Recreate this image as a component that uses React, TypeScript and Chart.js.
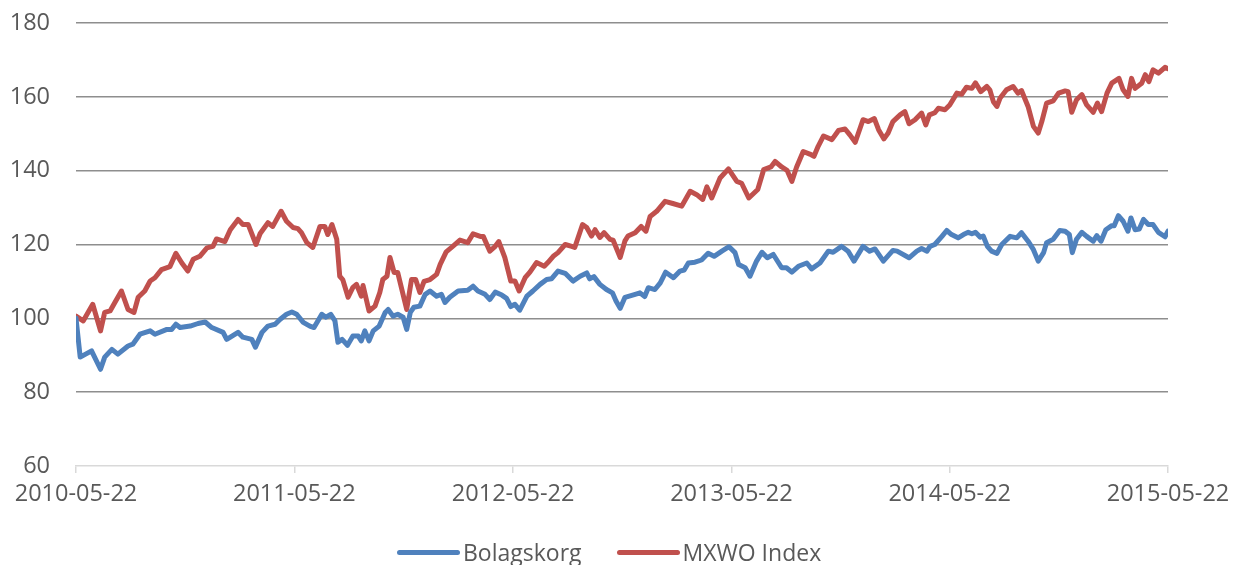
import React, { useEffect, useRef } from 'react';
import { Chart, registerables } from 'chart.js';

Chart.register(...registerables);

const seriesNames = ['Bolagskorg', 'MXWO Index'];
const seriesColors = ['#4f81bd', '#c0504d'];

// days since 2010-05-22
const tickDays = [0, 365, 731, 1096, 1461, 1826];
const tickLabels = ['2010-05-22', '2011-05-22', '2012-05-22', '2013-05-22', '2014-05-22', '2015-05-22'];
const yTicks = [60, 80, 100, 120, 140, 160, 180];

const blueDays = [
  0, 7, 26, 41, 48, 60, 70, 87, 95, 107, 124, 132, 152, 160, 167, 174, 191, 204, 216, 227,
  246, 252, 271, 279, 294, 300, 311, 321, 333, 341, 352, 361, 369, 380, 391, 398, 411, 418, 426, 433,
  438, 445, 454, 463, 472, 477, 483, 490, 497, 507, 517, 522, 530, 538, 547, 553, 559, 565, 575, 584,
  592, 603, 611, 617, 625, 639, 655, 664, 672, 684, 692, 701, 712, 720, 727, 734, 742, 754, 764, 776,
  787, 795, 806, 818, 831, 843, 854, 859, 866, 876, 887, 897, 903, 910, 918, 935, 943, 951, 957, 968,
  977, 986, 999, 1010, 1017, 1024, 1035, 1046, 1057, 1067, 1080, 1092, 1102, 1108, 1119, 1127, 1138, 1147, 1156, 1166,
  1180, 1188, 1197, 1208, 1222, 1230, 1244, 1258, 1266, 1280, 1291, 1301, 1316, 1327, 1336, 1350, 1366, 1373, 1393, 1406,
  1414, 1423, 1428, 1436, 1448, 1456, 1464, 1475, 1484, 1492, 1498, 1504, 1512, 1517, 1524, 1531, 1540, 1548, 1562, 1573,
  1581, 1592, 1601, 1609, 1618, 1623, 1634, 1645, 1654, 1661, 1666, 1673, 1682, 1690, 1701, 1707, 1714, 1722, 1732, 1736,
  1743, 1751, 1759, 1764, 1771, 1778, 1785, 1793, 1801, 1810, 1821, 1826,
];
const blueValues = [
  100, 89.5, 91.2, 86.2, 89.5, 91.6, 90.3, 92.5, 93, 95.7, 96.6, 95.7, 97, 97, 98.4, 97.5, 97.9, 98.6, 99, 97.5,
  96.2, 94.3, 96.2, 94.9, 94.3, 92.2, 96.2, 97.9, 98.4, 99.7, 101.1, 101.7, 101.1, 98.9, 97.9, 97.5, 101.1, 100.3, 101.1, 99.3,
  93.5, 94.3, 92.7, 95.2, 95.2, 93.9, 96.6, 93.9, 96.6, 97.9, 101.6, 102.4, 100.6, 101.1, 100.3, 97, 101.6, 103, 103.3, 106.5,
  107.4, 106, 106.5, 104.3, 105.7, 107.4, 107.6, 108.7, 107.4, 106.5, 105.1, 107.1, 106.3, 105.4, 103.2, 103.8, 102.2, 106, 107.4, 109.2,
  110.5, 110.7, 112.8, 112.2, 110.1, 111.4, 112.3, 110.7, 111.3, 109.2, 107.8, 106.9, 104.7, 102.7, 105.7, 106.5, 106.9, 105.9, 108.3, 107.8,
  109.6, 112.5, 111, 112.8, 113.1, 115, 115.2, 115.8, 117.6, 116.8, 118.2, 119.4, 117.8, 114.6, 113.7, 111.4, 115.5, 117.9, 116.4, 117.3,
  113.7, 113.7, 112.5, 114.1, 115, 113.4, 115, 118.2, 117.9, 119.5, 118.2, 115.5, 119.5, 118.2, 118.8, 115.5, 118.4, 118.2, 116.4, 118.2,
  118.9, 118.2, 119.5, 120, 122.2, 123.8, 122.7, 121.8, 122.7, 123.3, 122.9, 123.3, 122, 122.3, 119.5, 118.2, 117.6, 120, 122.2, 121.8,
  123.2, 120.9, 118.6, 115.5, 117.8, 120.5, 121.4, 123.8, 123.6, 122.7, 117.8, 121.4, 123.3, 122.2, 120.9, 122.4, 120.9, 124, 125.1, 125.1,
  127.8, 126.3, 123.6, 127.2, 124, 124.2, 126.8, 125.4, 125.4, 123.3, 122.1, 123.6,
];

const redDays = [
  0, 12, 28, 41, 48, 57, 65, 76, 87, 97, 104, 115, 124, 132, 143, 157, 167, 177, 187, 196,
  207, 219, 229, 235, 249, 258, 271, 279, 288, 301, 308, 321, 329, 343, 352, 363, 371, 377, 386, 396,
  408, 416, 421, 428, 436, 441, 446, 455, 463, 469, 477, 480, 490, 500, 508, 513, 520, 525, 532, 538,
  553, 561, 568, 575, 582, 592, 603, 609, 619, 630, 642, 655, 664, 676, 681, 692, 701, 707, 717, 727,
  734, 741, 751, 759, 770, 783, 789, 798, 806, 818, 829, 834, 847, 854, 862, 868, 876, 883, 893, 898,
  910, 918, 923, 935, 945, 953, 960, 971, 985, 998, 1013, 1027, 1038, 1048, 1055, 1063, 1077, 1091, 1105, 1113,
  1125, 1140, 1150, 1162, 1169, 1180, 1189, 1197, 1205, 1216, 1227, 1234, 1241, 1250, 1264, 1275, 1286, 1294, 1303, 1316,
  1325, 1335, 1342, 1351, 1358, 1366, 1378, 1386, 1393, 1403, 1414, 1421, 1427, 1436, 1442, 1453, 1461, 1473, 1481, 1489,
  1498, 1504, 1513, 1523, 1528, 1534, 1540, 1545, 1556, 1567, 1575, 1581, 1592, 1601, 1609, 1615, 1623, 1634, 1643, 1654,
  1659, 1665, 1673, 1682, 1690, 1701, 1708, 1715, 1724, 1732, 1744, 1751, 1759, 1765, 1771, 1782, 1788, 1794, 1801, 1810,
  1821, 1826,
];
const redValues = [
  100.6, 99.3, 103.8, 96.6, 101.6, 102, 104.3, 107.4, 102.4, 101.6, 105.7, 107.4, 110.1, 111, 113.2, 114, 117.6, 115, 112.8, 116,
  116.8, 119.1, 119.5, 121.5, 120.8, 124, 126.8, 125.4, 125.4, 120, 123, 125.9, 124.9, 129, 126.3, 124.6, 124.3, 123.2, 120.5, 119.2,
  124.9, 124.9, 122.7, 125.4, 121.4, 111.4, 110.5, 105.7, 108.4, 109.2, 106, 108.9, 102, 103.3, 107, 110.5, 111.4, 116.5, 112.4, 112.4,
  102.4, 110.5, 110.5, 107, 110, 110.5, 111.9, 114.6, 118, 119.5, 121.2, 120.5, 122.9, 122.2, 122.2, 118.2, 119.5, 120.8, 116.5, 110.1,
  110.1, 107.4, 111, 112.5, 115.1, 114.1, 115.1, 116.8, 117.8, 120, 119.5, 119.2, 125.4, 124.6, 122.3, 124, 121.9, 123.2, 121.4, 121.2,
  116.5, 121, 122.3, 123.2, 124.9, 123.6, 127.6, 129, 131.7, 131.1, 130.4, 134.4, 133.5, 132.2, 135.6, 132.6, 138, 140.5, 137.1, 136.6,
  132.6, 134.9, 140.3, 141, 142.5, 141, 140.1, 137.1, 141, 145.2, 144.5, 143.9, 146.6, 149.4, 148.4, 150.9, 151.3, 149.7, 147.7, 153.8,
  153.3, 154.1, 151.1, 148.6, 150.2, 153.3, 155.1, 156, 152.7, 153.8, 155.6, 152.4, 155.1, 155.7, 156.9, 156.5, 157.8, 161, 160.7, 162.6,
  162.3, 163.8, 161.4, 162.8, 161.9, 158.7, 157.4, 159.6, 161.9, 162.8, 161, 161.7, 157.4, 152, 150.2, 153.3, 158.3, 158.9, 161, 161.6,
  161.4, 155.8, 159.2, 160.6, 157.8, 155.8, 158.3, 156, 161, 163.7, 165, 161.9, 160.1, 165, 162.3, 163.7, 166, 164.1, 167.3, 166.4,
  168, 167.6,
];

const FONT = "'Open Sans', sans-serif";
const TEXT = '#595959';

export default function App() {
  const canvasRef = useRef<HTMLCanvasElement | null>(null);

  useEffect(() => {
    if (!canvasRef.current) return;
    const toPoints = (xs: number[], ys: number[]) => xs.map((x, i) => ({ x, y: ys[i] }));
    const lineStyle = {
      borderWidth: 5,
      pointRadius: 0,
      tension: 0,
      borderJoinStyle: 'round' as const,
      borderCapStyle: 'round' as const,
    };
    const chart = new Chart(canvasRef.current, {
      type: 'line',
      data: {
        datasets: [
          {
            label: seriesNames[0],
            data: toPoints(blueDays, blueValues),
            borderColor: seriesColors[0],
            backgroundColor: seriesColors[0],
            ...lineStyle,
          },
          {
            label: seriesNames[1],
            data: toPoints(redDays, redValues),
            borderColor: seriesColors[1],
            backgroundColor: seriesColors[1],
            ...lineStyle,
          },
        ],
      },
      options: {
        animation: false,
        responsive: false,
        maintainAspectRatio: false,
        layout: { padding: { left: 0, right: 65, top: 23, bottom: 59 } },
        plugins: { legend: { display: false }, tooltip: { enabled: false } },
        scales: {
          x: {
            type: 'linear',
            min: tickDays[0],
            max: tickDays[tickDays.length - 1],
            afterBuildTicks: (scale: any) => {
              scale.ticks = tickDays.map((v) => ({ value: v }));
            },
            afterFit: (scale: any) => {
              scale.height = 40;
              scale.paddingLeft = 0;
              scale.paddingRight = 0;
            },
            border: { display: true, color: '#d9d9d9', width: 1.5 },
            grid: { drawOnChartArea: false, drawTicks: true, tickLength: 7, color: '#d9d9d9', lineWidth: 1.5 },
            ticks: {
              autoSkip: false,
              maxRotation: 0,
              padding: 7,
              color: TEXT,
              font: { family: FONT, size: 23.5 },
              callback: (value: any) => {
                const i = tickDays.indexOf(Number(value));
                return i >= 0 ? tickLabels[i] : '';
              },
            },
          },
          y: {
            min: yTicks[0],
            max: yTicks[yTicks.length - 1],
            afterBuildTicks: (scale: any) => {
              scale.ticks = yTicks.map((v) => ({ value: v }));
            },
            afterFit: (scale: any) => {
              scale.width = 76;
              scale.paddingTop = 0;
              scale.paddingBottom = 0;
            },
            border: { display: false },
            grid: {
              drawTicks: false,
              lineWidth: 1.5,
              color: (ctx: any) => (ctx.tick && ctx.tick.value === yTicks[0] ? 'rgba(0,0,0,0)' : '#8e8e8e'),
            },
            ticks: {
              padding: 26,
              color: TEXT,
              font: { family: FONT, size: 23.5 },
            },
          },
        },
      },
    });
    return () => chart.destroy();
  }, []);

  const legendItem = (name: string, color: string, gap: number) => (
    <div style={{ display: 'flex', alignItems: 'center', marginRight: gap }}>
      <div style={{ width: 63, height: 5, borderRadius: 3, background: color, marginRight: 3 }} />
      <span style={{ fontFamily: FONT, fontSize: 23, color: TEXT, lineHeight: '28px' }}>{name}</span>
    </div>
  );

  return (
    <div style={{ position: 'absolute', left: 0, top: 0, width: 1233, height: 565, background: '#fff', overflow: 'hidden' }}>
      <canvas ref={canvasRef} width={1233} height={565} style={{ display: 'block', width: 1233, height: 565 }} />
      <div
        style={{
          position: 'absolute',
          left: 397,
          top: 538,
          display: 'flex',
          alignItems: 'center',
        }}
      >
        {legendItem(seriesNames[0], seriesColors[0], 35)}
        {legendItem(seriesNames[1], seriesColors[1], 0)}
      </div>
    </div>
  );
}
